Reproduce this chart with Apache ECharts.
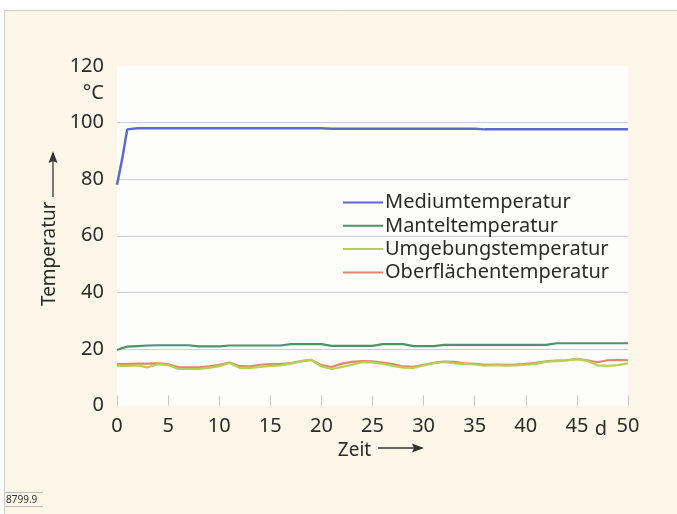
<!DOCTYPE html>
<html>
<head>
<meta charset="utf-8">
<script src="https://cdn.jsdelivr.net/npm/echarts@6/dist/echarts.min.js"></script>
<style>
html,body{margin:0;padding:0;background:#ffffff;}
#chart{width:677px;height:514px;}
</style>
</head>
<body>
<div id="chart"></div>
<script>
const days = [0,0.5,1,2,3,4,5,6,7,8,9,10,11,12,13,14,15,16,17,18,19,20,21,22,23,24,25,26,27,28,29,30,31,32,33,34,35,36,37,38,39,40,41,42,43,44,45,46,47,48,49,50];
const seriesNames = ['Mediumtemperatur','Manteltemperatur','Umgebungstemperatur','Oberflächentemperatur'];
const medium = [78,87,97.6,98,98,98,98,98,98,98,98,98,98,98,98,98,98,98,98,98,98,98,97.8,97.8,97.8,97.8,97.8,97.8,97.8,97.8,97.8,97.8,97.8,97.8,97.8,97.8,97.8,97.6,97.6,97.6,97.6,97.6,97.6,97.6,97.6,97.6,97.6,97.6,97.6,97.6,97.6,97.6];
const mantel = [19.6,20.3,20.8,21.0,21.2,21.3,21.3,21.3,21.3,20.9,20.9,20.9,21.2,21.2,21.2,21.2,21.2,21.2,21.7,21.7,21.7,21.7,21.1,21.1,21.1,21.1,21.1,21.7,21.7,21.7,21.0,21.0,21.0,21.4,21.4,21.4,21.4,21.4,21.4,21.4,21.4,21.4,21.4,21.4,22.0,22.0,22.0,22.0,22.0,22.0,22.0,22.0];
const umgebung = [14.1,14.0,14.0,14.2,13.5,14.6,14.3,12.9,12.9,12.9,13.3,13.9,15.0,13.3,13.3,13.6,14.0,14.2,14.8,15.6,16.1,13.8,12.9,13.6,14.4,15.3,15.2,14.7,14.0,13.4,13.3,14.2,15.0,15.4,14.9,14.7,14.5,14.1,14.3,14.1,14.2,14.4,14.7,15.5,15.7,15.9,16.4,15.8,14.2,14.0,14.3,14.9];
const oberflaeche = [14.6,14.6,14.6,14.8,14.8,14.9,14.6,13.6,13.5,13.5,13.8,14.4,15.2,13.9,13.8,14.4,14.6,14.6,15.0,15.7,16.1,14.3,13.6,14.8,15.4,15.7,15.6,15.2,14.6,13.8,13.7,14.4,15.1,15.5,15.4,14.9,14.7,14.4,14.5,14.4,14.5,14.7,15.1,15.6,15.9,16.0,16.5,16.0,15.3,16.0,16.1,16.0];
const yTicks = [0,20,40,60,80,100,120];
const xTicks = [0,5,10,15,20,25,30,35,40,45,50];

const FONT = '"Noto Sans", "DejaVu Sans", sans-serif';
const TXT = '#2b2b2b';
const colors = ['#5b69d3','#4a9466','#b4d24e','#e8846a'];

function pairs(v){ return days.map((d,i)=>[d,v[i]]); }
const allValues = [medium, mantel, umgebung, oberflaeche];
const zs = [4,3,2,1];

const chart = echarts.init(document.getElementById('chart'), null, {renderer:'canvas'});
const gc = '#c9cee0';
chart.setOption({
  backgroundColor: '#fbf6e7',
  animation: false,
  textStyle: {fontFamily: FONT},
  grid: {left:117, right:49, top:66, bottom:108.5, show:true, backgroundColor:'#fdfdfb', borderWidth:0},
  legend: {
    orient:'vertical', left:338, top:187,
    icon:'rect', itemWidth:40, itemHeight:2, itemGap:2.3,
    textStyle:{fontFamily:FONT, fontSize:20, color:TXT, lineHeight:21, padding:[0,0,0,-3]},
    data: seriesNames
  },
  xAxis: {
    type:'value', min:0, max:50, interval:5,
    name:'Zeit', nameLocation:'middle', nameGap:32,
    nameTextStyle:{fontFamily:FONT, fontSize:19, color:TXT, padding:[0,36,0,0]},
    axisLine:{show:false},
    axisTick:{show:true, inside:true, length:10, lineStyle:{color:'#c6c6c6', width:1}},
    axisLabel:{fontFamily:FONT, fontSize:20, color:TXT, margin:11,
      formatter: v => xTicks.includes(v) ? String(v) : ''},
    splitLine:{show:false}
  },
  yAxis: {
    type:'value', min:0, max:120, interval:20,
    name:'Temperatur', nameLocation:'middle', nameRotate:90, nameGap:53,
    nameTextStyle:{fontFamily:FONT, fontSize:19, color:TXT, padding:[0,36,0,0]},
    axisLine:{show:false}, axisTick:{show:false},
    axisLabel:{fontFamily:FONT, fontSize:20, color:TXT, margin:13,
      formatter: v => yTicks.includes(v) ? String(v) : ''},
    splitLine:{show:true, lineStyle:{color:['transparent',gc,gc,gc,gc,gc,'transparent'], width:1}}
  },
  series: seriesNames.map((n,i)=>({
    name:n, type:'line', data:pairs(allValues[i]), showSymbol:false, symbol:'none',
    lineStyle:{color:colors[i], width: i===0?2.5:2.2}, itemStyle:{color:colors[i]},
    z: zs[i]
  })),
  graphic: [
    {type:'rect', shape:{x:0,y:0,width:677,height:10}, style:{fill:'#ffffff'}, z:-1, silent:true},
    {type:'rect', shape:{x:0,y:0,width:4,height:514}, style:{fill:'#ffffff'}, z:-1, silent:true},
    {type:'line', shape:{x1:4,y1:10.5,x2:677,y2:10.5}, style:{stroke:'#cfcfcf', lineWidth:1}, silent:true},
    {type:'line', shape:{x1:4.5,y1:10,x2:4.5,y2:514}, style:{stroke:'#cfcfcf', lineWidth:1}, silent:true},
    {type:'text', x:104, y:93, style:{text:'°C', fontFamily:FONT, fontSize:20, fill:TXT, align:'right', verticalAlign:'middle'}},
    {type:'text', x:601, y:429, style:{text:'d', fontFamily:FONT, fontSize:20, fill:TXT, align:'center', verticalAlign:'middle'}},
    // x arrow
    {type:'line', shape:{x1:378,y1:448,x2:416,y2:448}, style:{stroke:'#333', lineWidth:1.3}, silent:true},
    {type:'polygon', shape:{points:[[424,448],[412,443.5],[414,448],[412,452.5]]}, style:{fill:'#333'}, silent:true},
    // y arrow
    {type:'line', shape:{x1:53,y1:197,x2:53,y2:160}, style:{stroke:'#333', lineWidth:1.3}, silent:true},
    {type:'polygon', shape:{points:[[53,151],[48.5,163],[53,161],[57.5,163]]}, style:{fill:'#333'}, silent:true},
    // code label
    {type:'line', shape:{x1:5,y1:492.5,x2:43,y2:492.5}, style:{stroke:'#bbbbbb', lineWidth:1}, silent:true},
    {type:'line', shape:{x1:5,y1:506.5,x2:43,y2:506.5}, style:{stroke:'#bbbbbb', lineWidth:1}, silent:true},
    {type:'text', x:6, y:500, style:{text:'8799.9', fontFamily:FONT, fontSize:10, fill:'#333', verticalAlign:'middle'}}
  ]
});
</script>
</body>
</html>
